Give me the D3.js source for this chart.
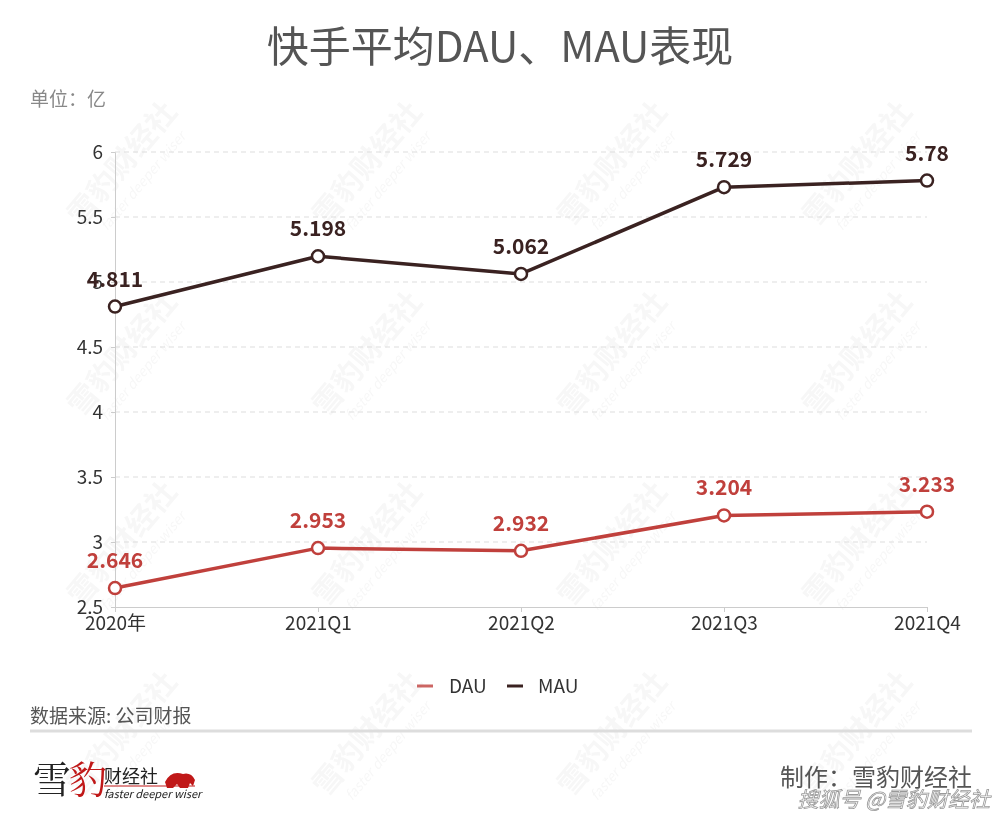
<!DOCTYPE html>
<html><head><meta charset="utf-8">
<script src="https://cdn.jsdelivr.net/npm/d3@7"></script>
<style>body{margin:0;background:#fff;}svg{display:block;font-family:"Noto Sans CJK SC","Noto Sans",sans-serif;}</style>
</head><body>
<svg id="c" width="1000" height="822"></svg>
<script>
const categories = ["2020年","2021Q1","2021Q2","2021Q3","2021Q4"];
const dauValues = [2.646, 2.953, 2.932, 3.204, 3.233];
const mauValues = [4.811, 5.198, 5.062, 5.729, 5.78];
const yTicks = [2.5, 3, 3.5, 4, 4.5, 5, 5.5, 6];
const seriesNames = ["DAU", "MAU"];
const seriesColors = ["#c0403c", "#3a2221"];

const svg = d3.select("#c");
const x = d3.scalePoint().domain(categories).range([115, 927]);
const y = d3.scaleLinear().domain([2.5, 6]).range([607, 152]);

// faint watermarks
const wm = svg.append("g").attr("opacity", 0.035);
for (let i = 0; i < 4; i++) for (let j = 0; j < 4; j++) {
  const cx = 130 + i * 245, cy = 170 + j * 190;
  const g = wm.append("g").attr("transform", `translate(${cx},${cy}) rotate(-50)`);
  g.append("text").text("雪豹财经社").attr("font-size", 30).attr("font-weight", "bold").attr("fill", "#000").attr("text-anchor", "middle");
  g.append("text").text("faster deeper wiser").attr("y", 22).attr("font-size", 14).attr("font-style", "italic").attr("fill", "#000").attr("text-anchor", "middle");
}

// title
svg.append("text").attr("x", 500).attr("y", 62).attr("text-anchor", "middle")
  .attr("font-size", 42).attr("fill", "#555").text("快手平均DAU、MAU表现");
svg.append("text").attr("x", 30).attr("y", 106).attr("font-size", 19).attr("fill", "#888").text("单位：亿");

// grid
svg.append("g").selectAll("line").data(yTicks.filter(d => d > 2.5)).join("line")
  .attr("x1", 115).attr("x2", 927).attr("y1", d => y(d)).attr("y2", d => y(d))
  .attr("stroke", "#ddd").attr("stroke-dasharray", "5,4");

// y axis
const ya = svg.append("g").attr("transform", "translate(115,0)")
  .call(d3.axisLeft(y).tickValues(yTicks).tickSize(4).tickPadding(8).tickFormat(d => d));
ya.select(".domain").attr("stroke", "#ccc");
ya.selectAll(".tick line").attr("stroke", "#ccc");
ya.selectAll("text").attr("font-size", 19).attr("fill", "#333").attr("font-family", '"Noto Sans CJK SC",sans-serif');

// x axis
const xa = svg.append("g").attr("transform", "translate(0,607)")
  .call(d3.axisBottom(x).tickSize(5).tickSizeOuter(0).tickPadding(5));
xa.select(".domain").attr("stroke", "#ccc");
xa.selectAll(".tick line").attr("stroke", "#ccc");
xa.selectAll("text").attr("font-size", 19).attr("fill", "#333").attr("font-family", '"Noto Sans CJK SC",sans-serif');

// series
const series = [dauValues, mauValues];
const line = d3.line().x((d, i) => x(categories[i])).y(d => y(d));
series.forEach((vals, si) => {
  const col = seriesColors[si];
  svg.append("path").datum(vals).attr("d", line).attr("fill", "none")
    .attr("stroke", col).attr("stroke-width", 3.5).attr("stroke-linejoin", "round");
  svg.append("g").selectAll("circle").data(vals).join("circle")
    .attr("cx", (d, i) => x(categories[i])).attr("cy", d => y(d)).attr("r", 6)
    .attr("fill", "#fff").attr("stroke", col).attr("stroke-width", 2.5);
  svg.append("g").selectAll("text").data(vals).join("text")
    .attr("x", (d, i) => x(categories[i])).attr("y", d => y(d) - 20)
    .attr("text-anchor", "middle").attr("font-size", 21).attr("font-weight", "bold")
    .attr("fill", col).text(d => d);
});

// legend
const lg = svg.append("g");
[[417, 449], [507, 538]].forEach((p, i) => {
  lg.append("line").attr("x1", p[0]).attr("x2", p[0] + 16).attr("y1", 686).attr("y2", 686)
    .attr("stroke", seriesColors[i]).attr("stroke-width", 3).attr("opacity", i === 0 ? 0.8 : 1);
  lg.append("text").attr("x", p[1]).attr("y", 693).attr("font-size", 19).attr("fill", "#333").text(seriesNames[i]);
});

// source
svg.append("text").attr("x", 30).attr("y", 723).attr("font-size", 19).attr("fill", "#555").text("数据来源: 公司财报");
svg.append("line").attr("x1", 30).attr("x2", 972).attr("y1", 731).attr("y2", 731).attr("stroke", "#ddd").attr("stroke-width", 3);

// logo
const logo = svg.append("g");
logo.append("text").attr("x", 33).attr("y", 793).attr("font-size", 38).attr("fill", "#222").attr("font-family", '"Noto Serif CJK SC","Noto Sans CJK SC",serif').text("雪");
logo.append("text").attr("x", 69).attr("y", 793).attr("font-size", 38).attr("fill", "#c01818").attr("font-family", '"Noto Serif CJK SC","Noto Sans CJK SC",serif').text("豹");
logo.append("text").attr("x", 104).attr("y", 783).attr("font-size", 18).attr("fill", "#222").text("财经社");
logo.append("line").attr("x1", 104).attr("x2", 195).attr("y1", 786).attr("y2", 786).attr("stroke", "#c01818").attr("stroke-width", 1);
logo.append("text").attr("x", 104).attr("y", 798).attr("font-size", 11).attr("font-style", "italic").attr("fill", "#222").text("faster deeper wiser");
logo.append("path").attr("d", "M165,782 q6,-12 18,-8 q8,-2 12,6 l-2,6 l-3,-3 l-2,5 l-8,0 l-3,-4 l-4,4 l-6,0 z").attr("fill", "#c01818");

// credits
svg.append("text").attr("x", 972).attr("y", 786).attr("text-anchor", "end").attr("font-size", 24).attr("fill", "#555").text("制作：雪豹财经社");
svg.append("text").attr("x", 990).attr("y", 807).attr("text-anchor", "end").attr("font-size", 21).attr("fill", "#fff")
  .attr("stroke", "#999").attr("stroke-width", 0.8).attr("font-style", "italic").text("搜狐号 @雪豹财经社");
</script>
</body></html>
